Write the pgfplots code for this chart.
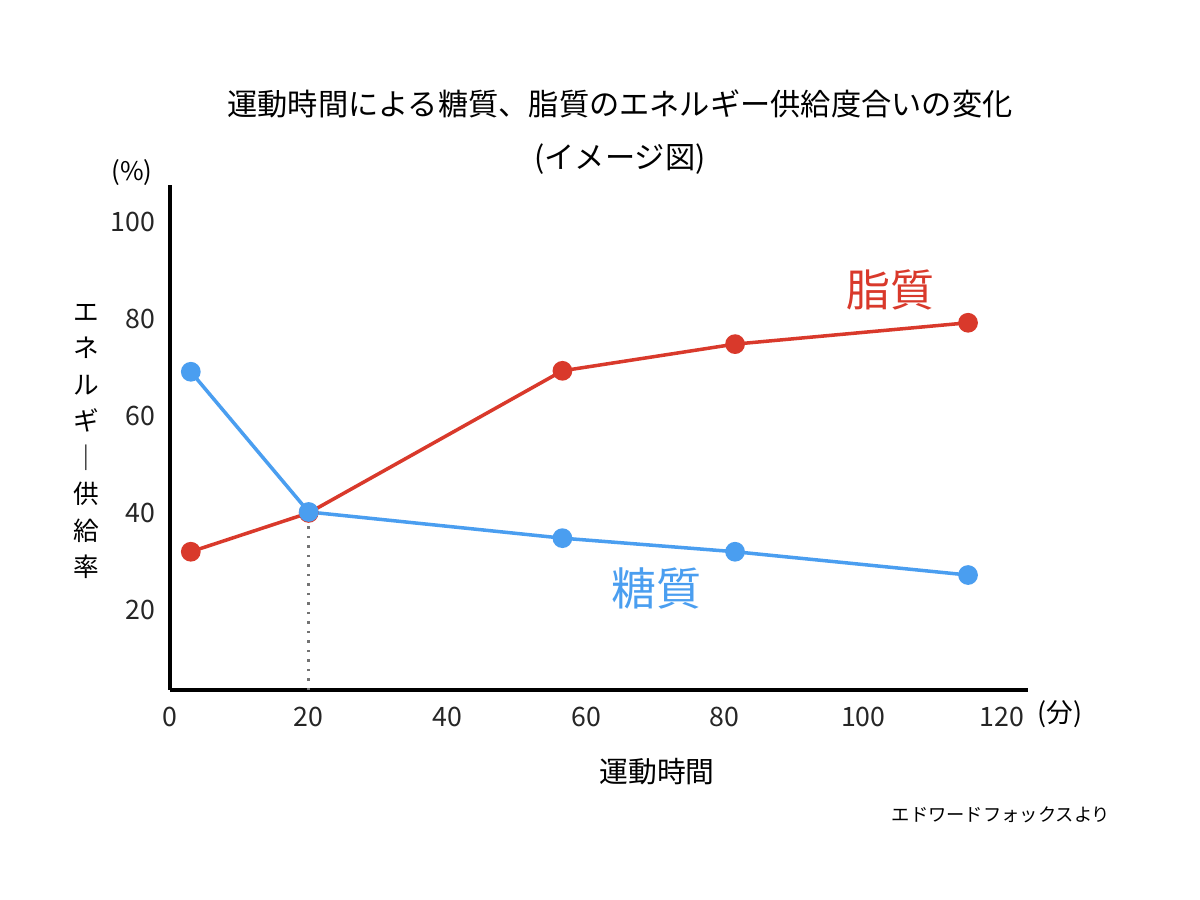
\documentclass[border=0pt]{standalone}
\usepackage{fontspec}
\setmainfont{Noto Sans CJK JP}
\usepackage{pgfplots}
\pgfplotsset{compat=1.18}
\definecolor{fatred}{HTML}{D9392B}
\definecolor{sugarblue}{HTML}{4A9EF0}
\begin{document}
\begin{tikzpicture}
\path[use as bounding box, fill=white] (0,0) rectangle (120mm,90mm);
\begin{axis}[
  at={(17mm,21mm)}, anchor=south west,
  scale only axis, width=85.8mm, height=50.5mm,
  xmin=0, xmax=123.75, ymin=3.5, ymax=107.6,
  axis x line=bottom, axis y line=left,
  axis line style={-, line width=1.2pt, black},
  xtick={0,20,...,120}, ytick={20,40,...,100},
  major tick length=0pt,
  tick label style={font=\fontsize{7.6}{8}\selectfont, text=black!85},
  /pgf/number format/assume math mode=true,
  yticklabel style={xshift=-0.25mm},
  xticklabel style={yshift=-0.5mm},
  clip=false,
]
\addplot[black!55, dotted, line width=0.7pt] coordinates {(20,3.5) (20,40)};
\addplot[fatred, line width=1pt, mark=*, mark size=2.3pt, mark options={fill=fatred, draw=fatred}]
  coordinates {(3,32) (20,40) (56.6,69.3) (81.5,74.8) (115.1,79.2)};
\addplot[sugarblue, line width=1pt, mark=*, mark size=2.3pt, mark options={fill=sugarblue, draw=sugarblue}]
  coordinates {(3,69.1) (20,40.2) (56.6,34.8) (81.5,32) (115.1,27.2)};
\node[text=fatred, font=\fontsize{12.5}{14}\selectfont] at (axis cs:103.9,86) {脂質};
\node[text=sugarblue, font=\fontsize{12.8}{14}\selectfont] at (axis cs:70.2,24.5) {糖質};
\end{axis}
\node[align=center, font=\fontsize{8.6}{15}\selectfont] at (62mm,76.8mm) {運動時間による糖質、脂質のエネルギー供給度合いの変化\\(イメージ図)};
\node[font=\fontsize{7.3}{8}\selectfont] at (13.2mm,72.7mm) {(\%)};
\node[font=\fontsize{7.6}{8}\selectfont] at (106mm,18.6mm) {(分)};
\node[align=center, font=\fontsize{7.3}{10.4}\selectfont] at (8.6mm,45.85mm) {エ\\ネ\\ル\\ギ\\｜\\供\\給\\率};
\node[font=\fontsize{8.2}{10}\selectfont] at (65.7mm,12.8mm) {運動時間};
\node[font=\fontsize{5.2}{6}\selectfont] at (100.1mm,8.5mm) {エドワードフォックスより};
\end{tikzpicture}
\end{document}
